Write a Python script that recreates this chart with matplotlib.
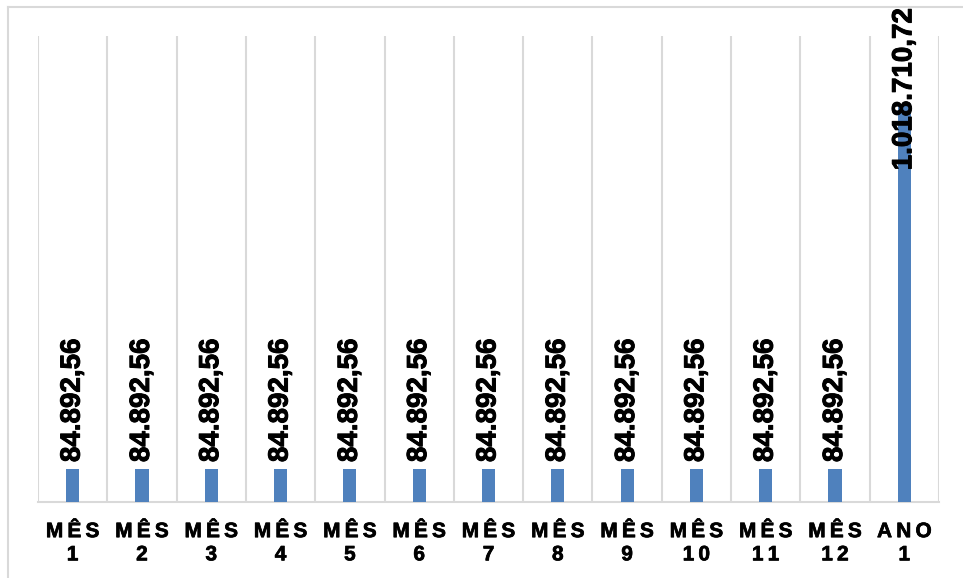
import matplotlib
matplotlib.use("Agg")
import matplotlib.pyplot as plt
import matplotlib.patheffects as pe
from matplotlib.lines import Line2D

plt.rcParams['font.family'] = ['Liberation Sans', 'DejaVu Sans']

# dados
categorias = ["MÊS\n1", "MÊS\n2", "MÊS\n3", "MÊS\n4", "MÊS\n5", "MÊS\n6",
              "MÊS\n7", "MÊS\n8", "MÊS\n9", "MÊS\n10", "MÊS\n11", "MÊS\n12",
              "ANO\n1"]
valores = [84892.56, 84892.56, 84892.56, 84892.56, 84892.56, 84892.56,
           84892.56, 84892.56, 84892.56, 84892.56, 84892.56, 84892.56,
           1018710.72]

AZUL = '#4F81BD'
CINZA = '#D9D9D9'
negrito = [pe.withStroke(linewidth=0.7, foreground='black')]


def fmt_br(v):
    s = f"{v:,.2f}"
    return s.replace(",", "X").replace(".", ",").replace("X", ".")


def espacar(txt):
    # letras espaçadas como no Excel
    linhas = txt.split("\n")
    return "\n".join("\u2009".join(l) for l in linhas)


fig = plt.figure(figsize=(9.63, 5.78), dpi=100)
ax = fig.add_axes([38 / 963, 1 - 502 / 578, (939 - 38) / 963, (502 - 36) / 578])

x = list(range(len(categorias)))
ax.bar(x, valores, width=0.19, color=AZUL, zorder=3)

ax.set_xlim(-0.5, len(categorias) - 0.5)
ax.set_ylim(0, 1200000)
ax.set_yticks([])

# linhas de grade verticais entre categorias
for b in range(len(categorias) + 1):
    ax.axvline(b - 0.5, color=CINZA, lw=1.5, zorder=1)

for s in ['top', 'right', 'left']:
    ax.spines[s].set_visible(False)
ax.spines['bottom'].set_color(CINZA)
ax.spines['bottom'].set_linewidth(1.5)

ax.set_xticks(x)
ax.set_xticklabels([espacar(c) for c in categorias], fontsize=15,
                   fontweight='bold', linespacing=1.28)
for t in ax.get_xticklabels():
    t.set_path_effects([pe.withStroke(linewidth=0.5, foreground='black')])
ax.tick_params(axis='x', length=0, pad=14.5)

# rótulos de dados
for i, v in enumerate(valores):
    off = 5 if v < 500000 else -46
    ax.annotate(fmt_br(v), (i, v), xytext=(0, off), textcoords='offset points',
                rotation=90, ha='center', va='bottom', fontsize=20,
                fontweight='bold', zorder=4, annotation_clip=False,
                path_effects=negrito)

# borda da área do gráfico
fig.add_artist(Line2D([8 / 963, 8 / 963], [0, 1 - 7 / 578], color=CINZA, lw=1.5,
                      transform=fig.transFigure))
fig.add_artist(Line2D([8 / 963, 1], [1 - 7 / 578, 1 - 7 / 578], color=CINZA, lw=1.5,
                      transform=fig.transFigure))

fig.savefig("out.png", dpi=100)
